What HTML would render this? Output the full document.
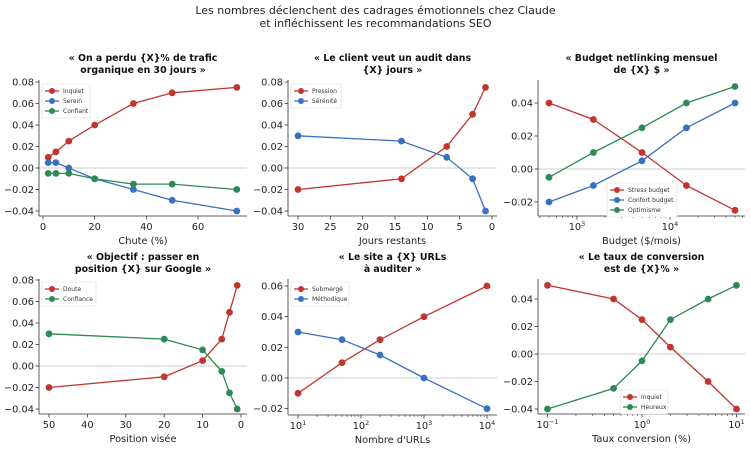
<!DOCTYPE html>
<html><head><meta charset="utf-8"><style>
html,body{margin:0;padding:0;background:#fff;}
svg{display:block;font-family:"DejaVu Sans","Liberation Sans",sans-serif;}
</style></head><body>
<svg id="s" width="751" height="450" xmlns="http://www.w3.org/2000/svg">
<text x="375.5" y="14" text-anchor="middle" font-size="11" fill="#222">Les nombres déclenchent des cadrages émotionnels chez Claude</text>
<text x="375.5" y="27" text-anchor="middle" font-size="11" fill="#222">et infléchissent les recommandations SEO</text>
</svg>
<script>
const R="#c0352f",B="#3a70bf",G="#2e8a55";
const s=document.getElementById('s');let h='';
function P(o){
 const {L,Rt,T,Bt,xf,yf,yt,xt,xl,title,series,leg,log,mt}=o;
 h+=`<line x1="${L}" x2="${Rt}" y1="${yf(0)}" y2="${yf(0)}" stroke="#bbb" stroke-width="0.8"/>`;
 h+=`<line x1="${L}" x2="${L}" y1="${T}" y2="${Bt}" stroke="#333" stroke-width="0.8"/>`;
 h+=`<line x1="${L}" x2="${Rt}" y1="${Bt}" y2="${Bt}" stroke="#333" stroke-width="0.8"/>`;
 yt.forEach(v=>{const y=yf(v);h+=`<line x1="${L-3.5}" x2="${L}" y1="${y}" y2="${y}" stroke="#333" stroke-width="0.8"/><text x="${L-5}" y="${y+3.5}" text-anchor="end" font-size="9.8" fill="#222">${v==0?'0.00':(v<0?'−':'')+Math.abs(v).toFixed(2)}</text>`;});
 xt.forEach(([v,l])=>{const x=xf(v);h+=`<line x1="${x}" x2="${x}" y1="${Bt}" y2="${Bt+3.5}" stroke="#333" stroke-width="0.8"/><text x="${x}" y="${Bt+14}" text-anchor="middle" font-size="9.8" fill="#222">${l}</text>`;});
 (mt||[]).forEach(v=>{const x=xf(v);if(x>=L&&x<=Rt)h+=`<line x1="${x}" x2="${x}" y1="${Bt}" y2="${Bt+2}" stroke="#333" stroke-width="0.6"/>`;});
 h+=`<text x="${(L+Rt)/2}" y="${Bt+28}" text-anchor="middle" font-size="9.8" fill="#222">${xl}</text>`;
 h+=`<text x="${(L+Rt)/2}" y="${T-19}" text-anchor="middle" font-size="9.4" font-weight="bold" fill="#111">${title[0]}</text>`;
 h+=`<text x="${(L+Rt)/2}" y="${T-7}" text-anchor="middle" font-size="9.4" font-weight="bold" fill="#111">${title[1]}</text>`;
 series.forEach(([c,xs,ys])=>{const pts=xs.map((x,i)=>xf(x).toFixed(1)+','+yf(ys[i]).toFixed(1));
  h+=`<polyline points="${pts.join(' ')}" fill="none" stroke="${c}" stroke-width="1.3"/>`;
  pts.forEach(p=>{const [a,b]=p.split(',');h+=`<circle cx="${a}" cy="${b}" r="3.4" fill="${c}"/>`;});});
 const [lx,ly,lw]=leg;const n=series.length;
 h+=`<rect x="${lx}" y="${ly}" width="${lw}" height="${n*10+4}" fill="#fff" stroke="#ddd" stroke-width="0.6" rx="1.5"/>`;
 series.forEach(([c,,,name],i)=>{const y=ly+7+i*10;h+=`<line x1="${lx+3}" x2="${lx+17}" y1="${y}" y2="${y}" stroke="${c}" stroke-width="1.3"/><circle cx="${lx+10}" cy="${y}" r="3" fill="${c}"/><text x="${lx+21}" y="${y+2.2}" font-size="6" fill="#333">${name}</text>`;});
}
const lin=(v0,p0,v1,p1)=>v=>p0+(v-v0)*(p1-p0)/(v1-v0);
const lg=(p0,e0,d)=>v=>p0+(Math.log10(v)-e0)*d;
function minors(a,b){const r=[];for(let e=a;e<b;e++)for(let k=2;k<10;k++)r.push(k*Math.pow(10,e));return r;}
P({L:39,Rt:247,T:80,Bt:216,xf:lin(0,43,60,198),yf:lin(0,168,0.08,82),yt:[0.08,0.06,0.04,0.02,0,-0.02,-0.04],
 xt:[[0,0],[20,20],[40,40],[60,60]],xl:"Chute (%)",title:["« On a perdu {X}% de trafic","organique en 30 jours »"],
 series:[[R,[2,5,10,20,35,50,75],[0.01,0.015,0.025,0.04,0.06,0.07,0.075],"Inquiet"],[B,[2,5,10,20,35,50,75],[0.005,0.005,0,-0.01,-0.02,-0.03,-0.04],"Serein"],[G,[2,5,10,20,35,50,75],[-0.005,-0.005,-0.005,-0.01,-0.015,-0.015,-0.02],"Confiant"]],leg:[42,84,48]});
P({L:288,Rt:497,T:80,Bt:216,xf:lin(30,298,0,492),yf:lin(0,168,0.08,82),yt:[0.08,0.06,0.04,0.02,0,-0.02,-0.04],
 xt:[[30,30],[25,25],[20,20],[15,15],[10,10],[5,5],[0,0]],xl:"Jours restants",title:["« Le client veut un audit dans","{X} jours »"],
 series:[[R,[30,14,7,3,1],[-0.02,-0.01,0.02,0.05,0.075],"Pression"],[B,[30,14,7,3,1],[0.03,0.025,0.01,-0.01,-0.04],"Sérénité"]],leg:[291,84,50]});
P({L:538,Rt:745,T:80,Bt:216,xf:lg(577,3,93),yf:lin(0,169,0.04,103),yt:[0.04,0.02,0,-0.02],mt:minors(2,5),
 xt:[[1000,"10<tspan dy='-4' font-size='6.5'>3</tspan>"],[10000,"10<tspan dy='-4' font-size='6.5'>4</tspan>"]],xl:"Budget ($/mois)",title:["« Budget netlinking mensuel","de {X} $ »"],
 series:[[R,[500,1500,5000,15000,50000],[0.04,0.03,0.01,-0.01,-0.025],"Stress budget"],[B,[500,1500,5000,15000,50000],[-0.02,-0.01,0.005,0.025,0.04],"Confort budget"],[G,[500,1500,5000,15000,50000],[-0.005,0.01,0.025,0.04,0.05],"Optimisme"]],leg:[607,183,70]});
P({L:39,Rt:247,T:279,Bt:414,xf:lin(50,49,0,241),yf:lin(0,366,0.08,280),yt:[0.08,0.06,0.04,0.02,0,-0.02,-0.04],
 xt:[[50,50],[40,40],[30,30],[20,20],[10,10],[0,0]],xl:"Position visée",title:["« Objectif : passer en","position {X} sur Google »"],
 series:[[R,[50,20,10,5,3,1],[-0.02,-0.01,0.005,0.025,0.05,0.075],"Doute"],[G,[50,20,10,5,3,1],[0.03,0.025,0.015,-0.005,-0.025,-0.04],"Confiance"]],leg:[42,282,54]});
P({L:288,Rt:497,T:279,Bt:415,xf:lg(298,1,63),yf:lin(0,378,0.06,286),yt:[0.06,0.04,0.02,0,-0.02],mt:minors(1,4),
 xt:[[10,"10<tspan dy='-4' font-size='6.5'>1</tspan>"],[100,"10<tspan dy='-4' font-size='6.5'>2</tspan>"],[1000,"10<tspan dy='-4' font-size='6.5'>3</tspan>"],[10000,"10<tspan dy='-4' font-size='6.5'>4</tspan>"]],xl:"Nombre d'URLs",title:["« Le site a {X} URLs","à auditer »"],
 series:[[R,[10,50,200,1000,10000],[-0.01,0.01,0.025,0.04,0.06],"Submergé"],[B,[10,50,200,1000,10000],[0.03,0.025,0.015,0,-0.02],"Méthodique"]],leg:[291,282,58]});
P({L:538,Rt:745,T:279,Bt:414,xf:lg(642,0,94.5),yf:lin(0,354,0.04,299),yt:[0.04,0.02,0,-0.02,-0.04],mt:minors(-1,1),
 xt:[[0.1,"10<tspan dy='-4' font-size='6.5'>−1</tspan>"],[1,"10<tspan dy='-4' font-size='6.5'>0</tspan>"],[10,"10<tspan dy='-4' font-size='6.5'>1</tspan>"]],xl:"Taux conversion (%)",title:["« Le taux de conversion","est de {X}% »"],
 series:[[R,[0.1,0.5,1,2,5,10],[0.05,0.04,0.025,0.005,-0.02,-0.04],"Inquiet"],[G,[0.1,0.5,1,2,5,10],[-0.04,-0.025,-0.005,0.025,0.04,0.05],"Heureux"]],leg:[620,390,48]});
s.insertAdjacentHTML('beforeend',h);
</script>
</body></html>
